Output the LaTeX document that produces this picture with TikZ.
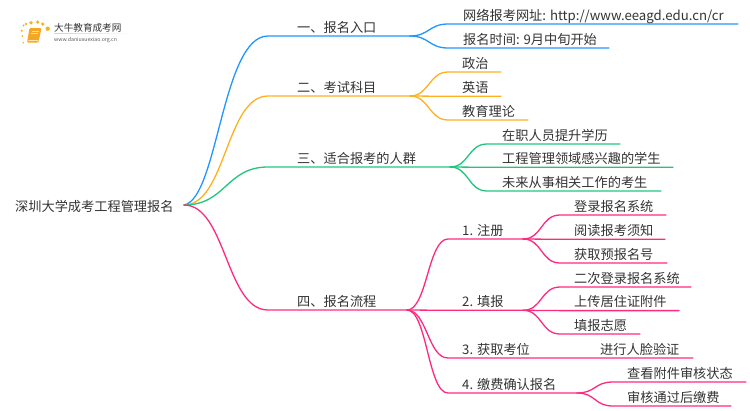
\documentclass[tikz,border=0pt]{standalone}
\usepackage{fontspec}
\setmainfont{Noto Sans CJK SC}
\definecolor{cblue}{HTML}{2196FF}
\definecolor{corange}{HTML}{FFB020}
\definecolor{cgreen}{HTML}{1FC77E}
\definecolor{cpink}{HTML}{FF2A80}
\definecolor{ctext}{HTML}{333333}
\definecolor{cbook}{HTML}{F5A623}
\tikzset{
  lbl/.style={anchor=base west,inner sep=0pt,text=ctext,font=\fontsize{13.2}{15}\selectfont},
  link/.style={line width=1.3pt,line cap=round},
  curve/.style={link,to path={.. controls +(#1,0) and +(-#1,0) .. (\tikztotarget)}},
  curve/.default=20
}
\begin{document}
\begin{tikzpicture}[x=1pt,y=-1pt]
\useasboundingbox (0,0) rectangle (750,410);
% logo
\fill[cbook,rounded corners=1.2pt] (29.5,28) -- (41.5,28) -- (38.5,42.5) -- (27,42.5) -- cycle;
\fill[white!70!cbook] (28.5,40) -- (38.5,40) -- (38.2,41) -- (28.2,41) -- cycle;
\draw[white!60!cbook,line width=.5pt] (31.5,31) -- (38.5,31) (31,33.5) -- (38,33.5);
\foreach \p/\r in {{(23.5,25.5)}/1.2,{(26,24)}/1.3,{(31,22.7)}/1.8,{(37.7,22)}/1.8,{(42.7,24)}/1.8,{(47.7,28.7)}/2.2,{(21.7,30.7)}/1.2,{(22.3,36)}/1,{(23.3,42.7)}/.9}
  \fill[cbook!85!yellow] \p circle (\r);
\node[anchor=base west,inner sep=0pt,text=ctext,font=\fontsize{9.6}{11}\selectfont] (logoa) at (54,31) {大牛教育成考网};
\node[anchor=base west,inner sep=0pt,text=black!65,font=\fontsize{5.2}{6}\selectfont] (logob) at (54,41) {www.daniuxuexiao.org.cn};
\shade[left color=black!18,right color=white] (54,33) rectangle (134,33.5);
% root
\node[lbl] (root) at (15,211) {深圳大学成考工程管理报名};
\coordinate (r) at (184,205);
% level 1 junctions
\coordinate (a1s) at (268,36);  \coordinate (a1e) at (410,36);
\coordinate (a2s) at (268,96);  \coordinate (a2e) at (410,96);
\coordinate (a3s) at (268,167); \coordinate (a3e) at (450,167);
\coordinate (a4s) at (268,310); \coordinate (a4e) at (407,310);
\node[lbl] (t1) at (297,32) {一、报名入口};
\node[lbl] (t2) at (297,92) {二、考试科目};
\node[lbl] (t3) at (297,163) {三、适合报考的人群};
\node[lbl] (t4) at (297,306) {四、报名流程};
\draw[link,cblue]   (r) .. controls +(34,-6) and +(-46,0) .. (a1s) -- (a1e);
\draw[link,corange] (r) to[curve=42] (a2s) -- (a2e);
\draw[link,cgreen]  (r) to[curve=42] (a3s) -- (a3e);
\draw[link,cpink]   (r) to[curve=42] (a4s) -- (a4e);
% blue leaves
\node[lbl] (b1) at (463,20) {网络报考网址: http://www.eeagd.edu.cn/cr};
\node[lbl] (b2) at (463,44) {报名时间: 9月中旬开始};
\coordinate (b1s) at (448,24); \coordinate (b1e) at (738,24);
\coordinate (b2s) at (448,48); \coordinate (b2e) at (609,48);
\draw[link,cblue] (a1e) to[curve=19] (b1s) -- (b1e);
\draw[link,cblue] (a1e) to[curve=19] (b2s) -- (b2e);
% orange leaves
\node[lbl] (c1) at (462,68) {政治};
\node[lbl] (c2) at (462,92) {英语};
\node[lbl] (c3) at (462,116) {教育理论};
\coordinate (c1s) at (448,72);  \coordinate (c1e) at (501,72);
\coordinate (c2s) at (448,96.3);  \coordinate (c2e) at (501,96.3);
\coordinate (c3s) at (448,120); \coordinate (c3e) at (528,120);
\draw[link,corange] (a2e) to[curve=19] (c1s) -- (c1e);
\draw[link,corange] (a2e) to[curve=19] (c2s) -- (c2e);
\draw[link,corange] (a2e) to[curve=19] (c3s) -- (c3e);
% green leaves
\node[lbl] (d1) at (502,140) {在职人员提升学历};
\node[lbl] (d2) at (502,163) {工程管理领域感兴趣的学生};
\node[lbl] (d3) at (502,187) {未来从事相关工作的考生};
\coordinate (d1s) at (487,144); \coordinate (d1e) at (620,144);
\coordinate (d2s) at (487,167.3); \coordinate (d2e) at (673,167.3);
\coordinate (d3s) at (487,191); \coordinate (d3e) at (661,191);
\draw[link,cgreen] (a3e) to[curve=19] (d1s) -- (d1e);
\draw[link,cgreen] (a3e) to[curve=19] (d2s) -- (d2e);
\draw[link,cgreen] (a3e) to[curve=19] (d3s) -- (d3e);
% pink level 2
\node[lbl] (e1) at (462,235) {1. 注册};
\node[lbl] (e2) at (462,306) {2. 填报};
\node[lbl] (e3) at (462,354) {3. 获取考位};
\node[lbl] (e4) at (462,389) {4. 缴费确认报名};
\coordinate (e1s) at (448,239); \coordinate (e1e) at (523,239);
\coordinate (e2s) at (448,310.3); \coordinate (e2e) at (523,310.3);
\coordinate (e3s) at (448,358); \coordinate (e3e) at (590,358);
\coordinate (e4s) at (448,393); \coordinate (e4e) at (577,393);
\draw[link,cpink] (a4e) to[curve=20] (e1s) -- (e1e);
\draw[link,cpink] (a4e) to[curve=20] (e2s) -- (e2e);
% pink leaves
\node[lbl] (f1) at (574,211) {登录报名系统};
\node[lbl] (f2) at (574,235) {阅读报考须知};
\node[lbl] (f3) at (574,259) {获取预报名号};
\coordinate (f1s) at (560,215); \coordinate (f1e) at (666,215);
\coordinate (f2s) at (560,239.3); \coordinate (f2e) at (665,239.3);
\coordinate (f3s) at (560,263); \coordinate (f3e) at (667,263);
\draw[link,cpink] (e1e) to[curve=19] (f1s) -- (f1e);
\draw[link,cpink] (e1e) to[curve=19] (f2s) -- (f2e);
\draw[link,cpink] (e1e) to[curve=19] (f3s) -- (f3e);
\node[lbl] (g1) at (574,283) {二次登录报名系统};
\node[lbl] (g2) at (574,306) {上传居住证附件};
\node[lbl] (g3) at (574,330) {填报志愿};
\coordinate (g1s) at (560,287); \coordinate (g1e) at (691,287);
\coordinate (g2s) at (560,310.6); \coordinate (g2e) at (679,310.6);
\coordinate (g3s) at (560,334); \coordinate (g3e) at (640,334);
\draw[link,cpink] (e2e) to[curve=19] (g1s) -- (g1e);
\draw[link,cpink] (e2e) to[curve=19] (g2s) -- (g2e);
\draw[link,cpink] (e2e) to[curve=19] (g3s) -- (g3e);
\node[lbl] (h1) at (600,354) {进行人脸验证};
\coordinate (h1e) at (693,358);
\draw[link,cpink] (a4e) to[curve=20] (e3s) -- (e3e) -- (h1e);
\node[lbl] (k1) at (627,378) {查看附件审核状态};
\node[lbl] (k2) at (627,402) {审核通过后缴费};
\coordinate (k1s) at (613,382); \coordinate (k1e) at (746,382);
\coordinate (k2s) at (613,406); \coordinate (k2e) at (731,406);
\draw[link,cpink] (a4e) to[curve=20] (e4s) -- (e4e);
\draw[link,cpink] (e4e) to[curve=19] (k1s) -- (k1e);
\draw[link,cpink] (e4e) to[curve=19] (k2s) -- (k2e);
\end{tikzpicture}
\end{document}
